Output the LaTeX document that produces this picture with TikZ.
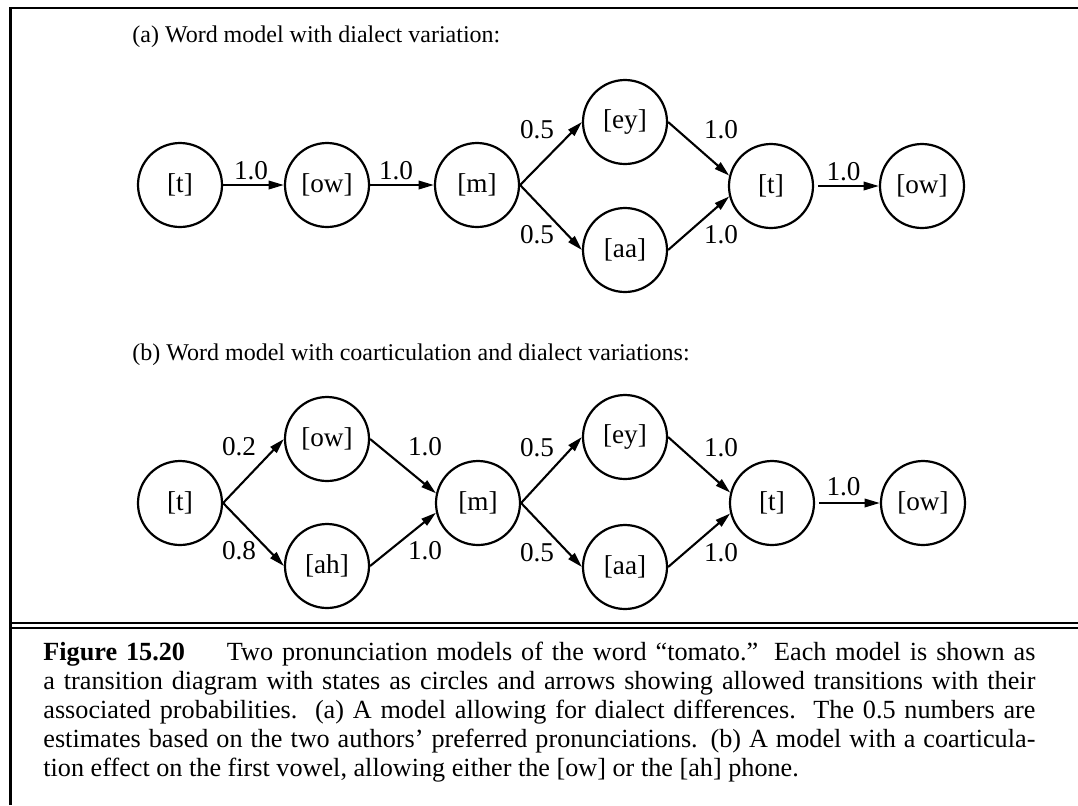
\documentclass[tikz,border=0pt]{standalone}
\usepackage{fontspec}
\setmainfont{Liberation Serif}
\usetikzlibrary{arrows.meta}

\begin{document}
\begin{tikzpicture}[x=0.5pt, y=-0.5pt,
  state/.style={circle, draw, line width=1.1pt, minimum size=42pt, inner sep=0pt,
    font=\fontsize{13.6}{16}\selectfont},
  trans/.style={-{Triangle[length=7.6pt,width=4.2pt]}, line width=1.05pt},
  prob/.style={inner sep=0pt, font=\fontsize{13.6}{16}\selectfont},
  heading/.style={anchor=base west, inner sep=0pt, font=\fontsize{12}{14}\selectfont},
  capline/.style={anchor=base west, inner sep=0pt, font=\fontsize{13.1}{15}\selectfont},
  frame/.style={line width=1.25pt},
  rule/.style={line width=1pt}]

\useasboundingbox (0,0) rectangle (1078,805);

% outer frame and caption rules
\draw[frame] (10.5,805) -- (10.5,7.8) -- (1078,7.8);
\draw[rule] (10.5,622.7) -- (1078,622.7);
\draw[rule] (10.5,627.6) -- (1078,627.6);

% ---------- (a) ----------
\node[heading] (ha) at (132,42) {(a) Word model with dialect variation:};

\node[state] (a1) at (180,185) {[t]};
\node[state] (a2) at (327,185) {[ow]};
\node[state] (a3) at (477,185) {[m]};
\node[state] (a4) at (625,122) {[ey]};
\node[state] (a5) at (625,250) {[aa]};
\node[state] (a6) at (771,186) {[t]};
\node[state] (a7) at (922,186) {[ow]};

\draw[trans] (a1.east) -- (a2.west);
\draw[trans] (a2.east) -- (a3.west);
\draw[trans] (a3.east) -- (a4.west);
\draw[trans] (a3.east) -- (a5.west);
\draw[trans] (a4.east) -- (a6.166);
\draw[trans] (a5.east) -- (a6.194);
\draw[trans] ([xshift=2pt]a6.east) -- (a7.west);

\node[prob] (pa1) at (251,171) {1.0};
\node[prob] (pa2) at (396,171) {1.0};
\node[prob] (pa3) at (537,130) {0.5};
\node[prob] (pa4) at (537,235) {0.5};
\node[prob] (pa5) at (721,130) {1.0};
\node[prob] (pa6) at (721,235) {1.0};
\node[prob] (pa7) at (843.5,172) {1.0};

% ---------- (b) ----------
\node[heading] (hb) at (132,360) {(b) Word model with coarticulation and dialect variations:};

\node[state] (b1) at (180,503) {[t]};
\node[state] (b2) at (327,439) {[ow]};
\node[state] (b3) at (327,566) {[ah]};
\node[state] (b4) at (478,503) {[m]};
\node[state] (b5) at (625,437) {[ey]};
\node[state] (b6) at (625,567) {[aa]};
\node[state] (b7) at (772,503) {[t]};
\node[state] (b8) at (923,503) {[ow]};

\draw[trans] (b1.east) -- (b2.west);
\draw[trans] (b1.east) -- (b3.west);
\draw[trans] (b2.east) -- (b4.167);
\draw[trans] (b3.east) -- (b4.193);
\draw[trans] (b4.east) -- (b5.west);
\draw[trans] (b4.east) -- (b6.west);
\draw[trans] (b5.east) -- (b7.166);
\draw[trans] (b6.east) -- (b7.194);
\draw[trans] ([xshift=2pt]b7.east) -- (b8.west);

\node[prob] (pb1) at (239,447) {0.2};
\node[prob] (pb2) at (239,551) {0.8};
\node[prob] (pb3) at (425,447) {1.0};
\node[prob] (pb4) at (425,551) {1.0};
\node[prob] (pb5) at (537,448) {0.5};
\node[prob] (pb6) at (537,553) {0.5};
\node[prob] (pb7) at (721,448) {1.0};
\node[prob] (pb8) at (721,553) {1.0};
\node[prob] (pb9) at (843.5,487) {1.0};

% ---------- caption ----------
\node[capline] (c1) at (43,660) {\hbox to 496pt{\textbf{Figure 15.20}\hspace{1.6em}Two pronunciation models of the word “tomato.” Each model is shown as}};
\node[capline] (c2) at (43,689) {\hbox to 496pt{a transition diagram with states as circles and arrows showing allowed transitions with their}};
\node[capline] (c3) at (43,718) {\hbox to 496pt{associated probabilities.\ \ (a) A model allowing for dialect differences.\ \ The 0.5 numbers are}};
\node[capline] (c4) at (43,747) {\hbox to 496pt{estimates based on the two authors’ preferred pronunciations. (b) A model with a coarticula-}};
\node[capline] (c5) at (43,776) {tion effect on the first vowel, allowing either the [ow] or the [ah] phone.};

\end{tikzpicture}
\end{document}
